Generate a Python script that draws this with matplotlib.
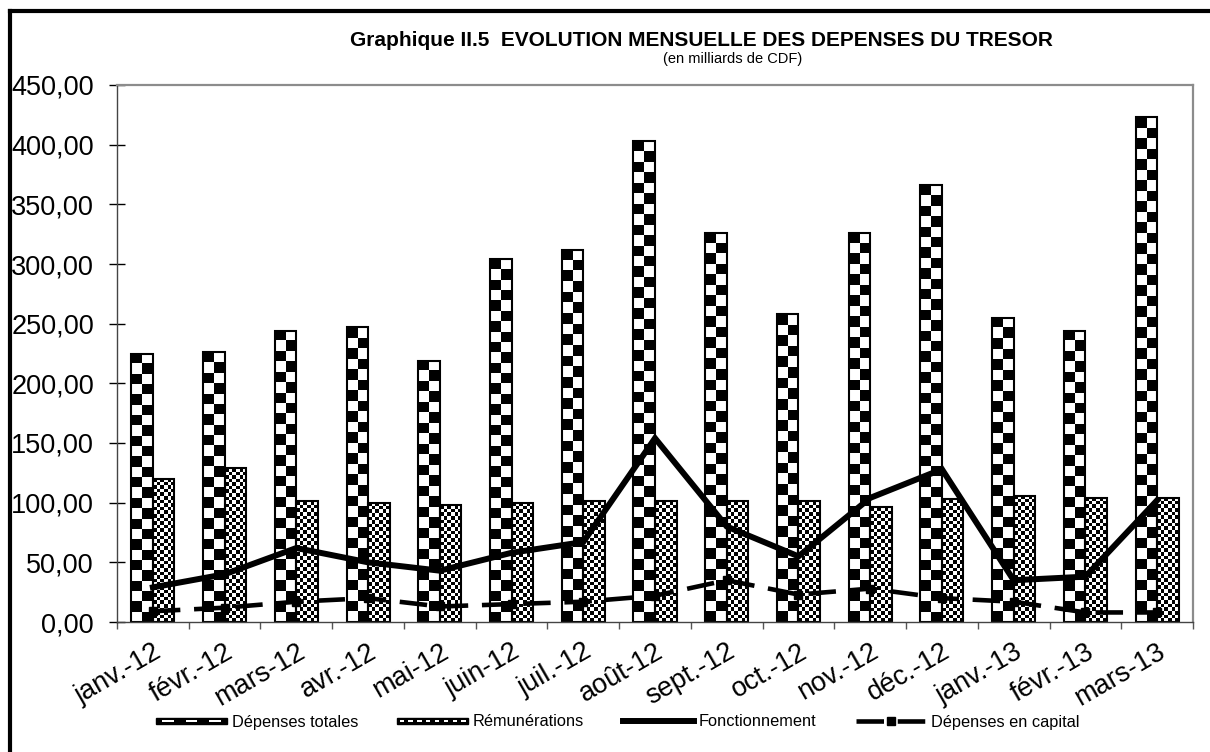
import numpy as np
import matplotlib
matplotlib.use("Agg")
import matplotlib.pyplot as plt
from matplotlib.patches import Rectangle, Patch
from matplotlib.lines import Line2D
from matplotlib.legend_handler import HandlerBase
from matplotlib.ticker import FixedLocator, FuncFormatter

plt.rcParams['font.family'] = ['Liberation Sans', 'DejaVu Sans']

# données (milliards de CDF)
mois = ['janv.-12', 'févr.-12', 'mars-12', 'avr.-12', 'mai-12', 'juin-12', 'juil.-12',
        'août-12', 'sept.-12', 'oct.-12', 'nov.-12', 'déc.-12', 'janv.-13', 'févr.-13', 'mars-13']
depenses_totales = [225, 226, 244, 247, 219, 304, 312, 403, 326, 258, 326, 366, 255, 244, 423]
remunerations = [120, 129, 101, 100, 98, 100, 101, 101, 101, 101, 96, 103, 106, 104, 104]
fonctionnement = [29, 40, 62, 50, 43, 58, 67, 154, 80, 55, 104, 128, 35, 38, 102]
depenses_capital = [9, 12, 17, 20, 13, 15, 17, 22, 35, 23, 28, 20, 17, 8, 8]

fig = plt.figure(figsize=(12.1, 7.52), dpi=100)
ax = fig.add_axes([117 / 1210, 1 - 622 / 752, (1193 - 117) / 1210, (622 - 85) / 752])

x = np.arange(len(mois))
w = 0.3
px_per_unit = 537 / 450.0


def damier(barres, ncols, carre_px):
    # remplit chaque barre d'un damier noir/blanc
    for r in barres:
        x0, y0 = r.get_xy()
        bw, bh = r.get_width(), r.get_height()
        nrows = max(1, int(round(bh * px_per_unit / carre_px)))
        grille = np.indices((nrows, ncols)).sum(axis=0) % 2
        ax.imshow(grille, cmap='gray', vmin=0, vmax=1, extent=(x0, x0 + bw, y0, y0 + bh),
                  origin='upper', interpolation='nearest', aspect='auto', zorder=1.5)


b1 = ax.bar(x - w / 2, depenses_totales, w, facecolor='none', edgecolor='black', linewidth=1.5, zorder=2)
b2 = ax.bar(x + w / 2, remunerations, w, facecolor='none', edgecolor='black', linewidth=1.5, zorder=2)
damier(b1, 2, 10.5)
damier(b2, 6, 3.6)

ax.plot(x, fonctionnement, color='black', linewidth=4.3, solid_joinstyle='miter', zorder=3)
ax.plot(x, depenses_capital, color='black', linewidth=3.3, linestyle=(0, (6, 3)),
        marker='s', markersize=6, zorder=3)

ax.set_xlim(-0.5, len(mois) - 0.5)
ax.set_ylim(0, 450)
ax.set_yticks(np.arange(0, 451, 50))
ax.yaxis.set_major_formatter(FuncFormatter(lambda v, p: f"{v:.2f}".replace('.', ',')))
ax.tick_params(axis='y', direction='inout', length=12, width=1, labelsize=19.5, pad=10.5)

ax.set_xticks(x)
ax.set_xticklabels(mois, rotation=30, ha='right', va='top', rotation_mode='anchor')
ax.tick_params(axis='x', which='major', length=0, labelsize=19.5, pad=12)
ax.xaxis.set_minor_locator(FixedLocator(np.arange(-0.5, len(mois), 1)))
ax.tick_params(axis='x', which='minor', direction='out', length=5, width=1, color='#555555')

for s in ['top', 'right']:
    ax.spines[s].set_color('#8c8c8c')
    ax.spines[s].set_linewidth(1.6)
for s in ['left', 'bottom']:
    ax.spines[s].set_color('#444444')
    ax.spines[s].set_linewidth(1)

# titre
fig.text(701 / 1210, 1 - 40 / 752, 'Graphique II.5  EVOLUTION MENSUELLE DES DEPENSES DU TRESOR',
         ha='center', va='center', fontsize=15, fontweight='bold')
fig.text(733 / 1210, 1 - 59 / 752, '(en milliards de CDF)', ha='center', va='center', fontsize=10.5)


class HandlerDamier(HandlerBase):
    def __init__(self, n):
        super().__init__()
        self.n = n

    def create_artists(self, legend, orig_handle, xdescent, ydescent, width, height, fontsize, trans):
        h = height * 0.55
        y = -ydescent + (height - h) / 2
        x0 = -xdescent
        arts = [Rectangle((x0, y), width, h, facecolor='black', edgecolor='black', transform=trans)]
        pas = width / self.n
        for i in range(self.n):
            arts.append(Rectangle((x0 + pas * (i + 0.25), y + h * 0.3), pas * 0.5, h * 0.4,
                                  facecolor='white', edgecolor='none', transform=trans))
        return arts


h1 = Patch(facecolor='black')
h2 = Patch(facecolor='black')
h3 = Line2D([], [], color='black', linewidth=4.3)
h4 = Line2D([], [], color='black', linewidth=3.3, linestyle=(0, (6, 3)), marker='s', markersize=6)
fig.legend([h1, h2, h3, h4], ['Dépenses totales', 'Rémunérations', 'Fonctionnement', 'Dépenses en capital'],
           handler_map={h1: HandlerDamier(3), h2: HandlerDamier(8)},
           loc='center', bbox_to_anchor=(618 / 1210, 1 - 722 / 752), ncol=4, frameon=False,
           fontsize=11.8, handlelength=4.3, handletextpad=0.3, columnspacing=2.4)

# cadre extérieur
fig.add_artist(Line2D([10 / 1210, 10 / 1210], [0, 1 - 11 / 752], color='black', linewidth=3))
fig.add_artist(Line2D([10 / 1210, 1], [1 - 11 / 752, 1 - 11 / 752], color='black', linewidth=3))

fig.savefig('out.png', dpi=100)
plt.close(fig)
